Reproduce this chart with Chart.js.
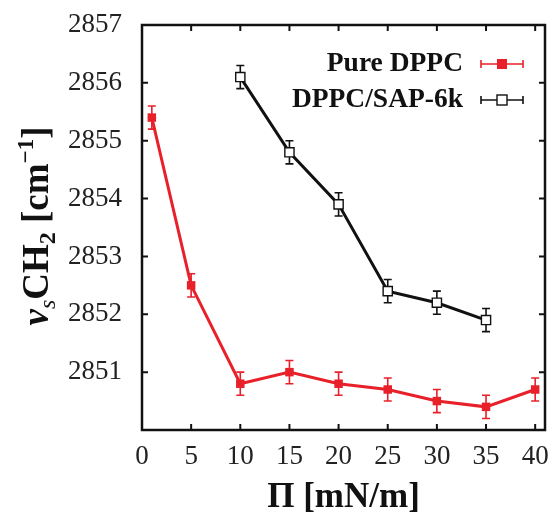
<!DOCTYPE html>
<html><head><meta charset="utf-8">
<script src="https://cdn.jsdelivr.net/npm/chart.js"></script>
<style>html,body{margin:0;padding:0;background:#fff}#wrap{width:553px;height:512px}</style>
</head><body><div id="wrap"><canvas id="c" width="553" height="512"></canvas></div>
<script>
const xTicks = [0, 5, 10, 15, 20, 25, 30, 35, 40];
const yTicks = [2850, 2851, 2852, 2853, 2854, 2855, 2856, 2857];
const pureX = [1, 5, 10, 15, 20, 25, 30, 35, 40];
const pureY = [2855.4, 2852.5, 2850.8, 2851.0, 2850.8, 2850.7, 2850.5, 2850.4, 2850.7];
const pureErr = [0.2, 0.2, 0.2, 0.2, 0.2, 0.2, 0.2, 0.2, 0.2];
const sapX = [10, 15, 20, 25, 30, 35];
const sapY = [2856.1, 2854.8, 2853.9, 2852.4, 2852.2, 2851.9];
const sapErr = [0.2, 0.2, 0.2, 0.2, 0.2, 0.2];
const labels = ['Pure DPPC', 'DPPC/SAP-6k'];

const RED = '#e8202a', BLK = '#111';
const SERIF = '"Liberation Serif","DejaVu Serif",serif';

const errs = [pureErr, sapErr];

const errorBars = {
  id: 'errorBars',
  beforeDatasetsDraw(chart) {
    const ctx = chart.ctx, ys = chart.scales.y;
    chart.data.datasets.forEach((ds, i) => {
      const meta = chart.getDatasetMeta(i);
      ctx.save();
      ctx.strokeStyle = ds.borderColor; ctx.lineWidth = 1.6;
      meta.data.forEach((pt, j) => {
        const v = ds.data[j].y, e = errs[i][j];
        const y1 = ys.getPixelForValue(v + e), y2 = ys.getPixelForValue(v - e);
        ctx.beginPath();
        ctx.moveTo(pt.x, y1); ctx.lineTo(pt.x, y2);
        ctx.moveTo(pt.x - 4, y1); ctx.lineTo(pt.x + 4, y1);
        ctx.moveTo(pt.x - 4, y2); ctx.lineTo(pt.x + 4, y2);
        ctx.stroke();
      });
      ctx.restore();
    });
  }
};

const frame = {
  id: 'frame',
  afterDraw(chart) {
    const ctx = chart.ctx, a = chart.chartArea, xs = chart.scales.x, ys = chart.scales.y;
    ctx.save();
    ctx.strokeStyle = '#111'; ctx.lineWidth = 2.5;
    ctx.strokeRect(a.left, a.top, a.right - a.left, a.bottom - a.top);
    ctx.lineWidth = 2;
    ctx.beginPath();
    const L = 6;
    xTicks.forEach(v => {
      const px = xs.getPixelForValue(v);
      ctx.moveTo(px, a.bottom); ctx.lineTo(px, a.bottom - L);
      ctx.moveTo(px, a.top); ctx.lineTo(px, a.top + L);
    });
    yTicks.forEach(v => {
      const py = ys.getPixelForValue(v);
      ctx.moveTo(a.left, py); ctx.lineTo(a.left + L, py);
      ctx.moveTo(a.right, py); ctx.lineTo(a.right - L, py);
    });
    ctx.stroke();

    // Legend
    const rows = [
      {y: 64, color: RED, fill: true},
      {y: 100, color: BLK, fill: false}
    ];
    rows.forEach((r, i) => {
      ctx.font = 'bold 27.5px ' + SERIF;
      ctx.fillStyle = '#111'; ctx.textAlign = 'right'; ctx.textBaseline = 'middle';
      ctx.fillText(labels[i], 463, r.y);
      ctx.strokeStyle = r.color; ctx.lineWidth = 1.6;
      ctx.beginPath();
      ctx.moveTo(481, r.y); ctx.lineTo(523, r.y);
      ctx.moveTo(481, r.y - 4); ctx.lineTo(481, r.y + 4);
      ctx.moveTo(523, r.y - 4); ctx.lineTo(523, r.y + 4);
      ctx.stroke();
      if (r.fill) { ctx.fillStyle = r.color; ctx.fillRect(497, r.y - 5, 10, 10); }
      else { ctx.fillStyle = '#fff'; ctx.fillRect(497, r.y - 5, 10, 10); ctx.lineWidth = 1.4; ctx.strokeRect(497, r.y - 5, 10, 10); }
    });

    // X title
    ctx.fillStyle = '#111'; ctx.textAlign = 'center'; ctx.textBaseline = 'alphabetic';
    ctx.font = 'bold 35px ' + SERIF;
    ctx.fillText('\u03A0 [mN/m]', (a.left + a.right) / 2, 507);

    // Y title with sub/superscripts
    const F = 37;
    const parts = [
      {t: 'v', f: 'italic bold ' + F + 'px ' + SERIF, dy: 0},
      {t: 's', f: 'italic 24px ' + SERIF, dy: 7},
      {t: 'CH', f: 'bold ' + F + 'px ' + SERIF, dy: 0},
      {t: '2', f: 'bold 24px ' + SERIF, dy: 7},
      {t: ' [cm', f: 'bold ' + F + 'px ' + SERIF, dy: 0},
      {t: '\u22121', f: 'bold 23px ' + SERIF, dy: -15},
      {t: ']', f: 'bold ' + F + 'px ' + SERIF, dy: 0}
    ];
    let total = 0;
    parts.forEach(p => { ctx.font = p.f; p.w = ctx.measureText(p.t).width; total += p.w; });
    ctx.translate(48, 226);
    ctx.rotate(-Math.PI / 2);
    ctx.textAlign = 'left';
    let x = -total / 2;
    parts.forEach(p => { ctx.font = p.f; ctx.fillText(p.t, x, p.dy); x += p.w; });
    ctx.restore();
  }
};

new Chart(document.getElementById('c'), {
  type: 'line',
  data: {
    datasets: [
      {label: labels[0], data: pureX.map((x, i) => ({x, y: pureY[i]})), borderColor: RED, backgroundColor: RED,
        borderWidth: 3, pointStyle: 'rect', pointRadius: 6, pointBorderWidth: 0, pointBackgroundColor: RED},
      {label: labels[1], data: sapX.map((x, i) => ({x, y: sapY[i]})), borderColor: BLK, backgroundColor: '#fff',
        borderWidth: 3, pointStyle: 'rect', pointRadius: 6.5, pointBorderWidth: 1.4, pointBackgroundColor: '#fff', pointBorderColor: BLK}
    ]
  },
  options: {
    responsive: false, animation: false,
    layout: {padding: {top: 25, right: 8, left: 0, bottom: 0}},
    plugins: {legend: {display: false}, tooltip: {enabled: false}},
    scales: {
      x: {type: 'linear', min: 0, max: 41,
        afterBuildTicks: s => { s.ticks = xTicks.map(v => ({value: v})); },
        afterFit: s => { s.height = 82; s.paddingLeft = 0; s.paddingRight = 0; },
        grid: {display: false, drawTicks: false}, border: {display: false},
        ticks: {padding: 11, color: '#222', font: {family: SERIF, size: 27}, maxRotation: 0}
      },
      y: {type: 'linear', min: 2850, max: 2857,
        afterBuildTicks: s => { s.ticks = yTicks.map(v => ({value: v})); },
        afterFit: s => { s.width = 142; s.paddingTop = 0; s.paddingBottom = 0; },
        grid: {display: false, drawTicks: false}, border: {display: false},
        ticks: {padding: 20, color: '#222', font: {family: SERIF, size: 27}, callback: v => v === 2850 ? '' : String(v)}
      }
    }
  },
  plugins: [errorBars, frame]
});
</script></body></html>
